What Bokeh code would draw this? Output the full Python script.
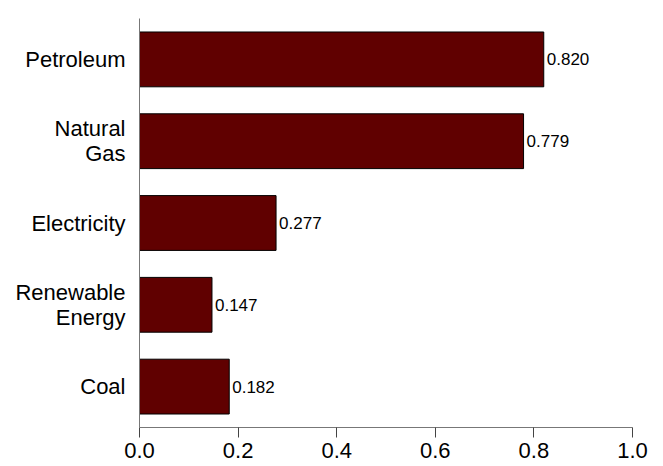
from bokeh.plotting import figure
from bokeh.models import Range1d, FixedTicker, ColumnDataSource, CustomJSTickFormatter
from bokeh.core.properties import value
from bokeh.embed import file_html
from bokeh.resources import INLINE

categories = ["Petroleum", "Natural\nGas", "Electricity", "Renewable\nEnergy", "Coal"]
values = [0.820, 0.779, 0.277, 0.147, 0.182]
x_ticks = [0.0, 0.2, 0.4, 0.6, 0.8, 1.0]

ys = [i + 0.5 for i in range(len(categories))]
labels = ["%.3f" % v for v in values]

src = ColumnDataSource(dict(y=ys, v=values, lab=labels))

p = figure(width=662, height=466, output_backend="svg", toolbar_location=None,
           x_range=Range1d(0, 1), y_range=Range1d(len(categories), 0),
           min_border_left=139, min_border_top=18, min_border_right=30, min_border_bottom=39)
p.xgrid.visible = False
p.ygrid.visible = False
p.outline_line_color = None
p.background_fill_color = "white"
p.border_fill_color = "white"

p.hbar(y="y", right="v", left=0, height=0.67, source=src,
       fill_color="#600000", line_color="black", line_width=1)
p.text(x="v", y="y", text="lab", source=src, x_offset=3,
       text_baseline="middle", text_align="left",
       text_font=value("Liberation Sans"), text_font_size="17px", text_color="black")

xa = p.xaxis[0]
xa.ticker = FixedTicker(ticks=x_ticks)
xa.formatter = CustomJSTickFormatter(code="return tick.toFixed(1);")
xa.minor_tick_line_color = None
xa.major_tick_in = 0
xa.major_tick_out = 10
xa.major_tick_line_color = "#444444"
xa.axis_line_color = "#777777"
xa.major_label_standoff = 5
xa.major_label_text_font = "Liberation Sans"
xa.major_label_text_font_size = "22px"
xa.major_label_text_color = "black"

ya = p.yaxis[0]
ya.ticker = FixedTicker(ticks=ys)
ya.major_label_overrides = {y: c for y, c in zip(ys, categories)}
ya.minor_tick_line_color = None
ya.major_tick_line_color = None
ya.major_tick_in = 0
ya.major_tick_out = 0
ya.major_label_standoff = 14
ya.axis_line_color = "#777777"
ya.major_label_text_font = "Liberation Sans"
ya.major_label_text_font_size = "22px"
ya.major_label_text_color = "black"
ya.major_label_text_align = "right"
ya.major_label_text_line_height = 1.0

open("out.html", "w").write(file_html(p, INLINE))
